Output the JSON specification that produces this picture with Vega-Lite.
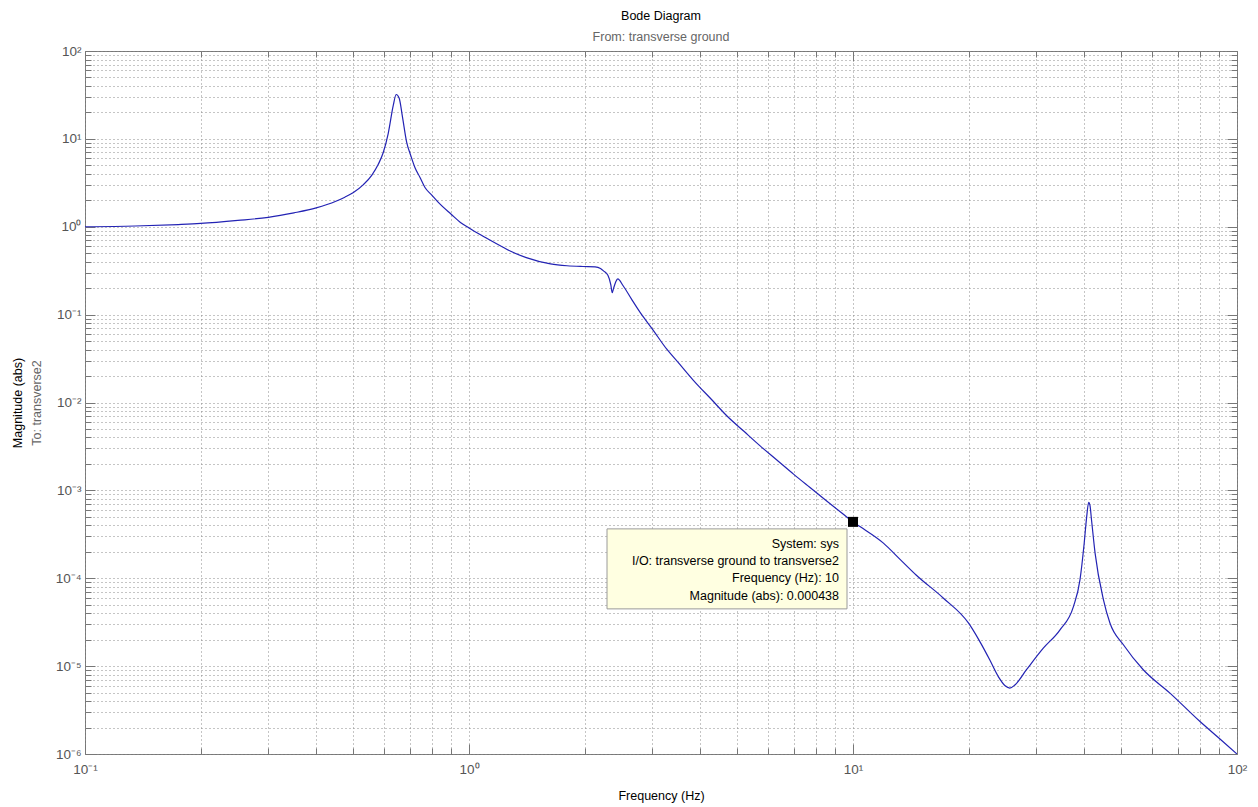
{
  "$schema": "https://vega.github.io/schema/vega-lite/v6.json",
  "width": 1152,
  "height": 703,
  "autosize": "none",
  "padding": {"left": 85, "top": 51, "right": 21, "bottom": 53},
  "background": "white",
  "config": {
    "font": "Liberation Sans",
    "view": {"stroke": "#777777", "strokeWidth": 1, "fill": "white"},
    "axis": {"labelFont": "Liberation Sans", "titleFont": "Liberation Sans", "titleFontWeight": "normal"}
  },
  "title": {
    "text": "Bode Diagram",
    "subtitle": "From: transverse ground",
    "anchor": "middle",
    "frame": "group",
    "fontSize": 12.5,
    "fontWeight": "normal",
    "color": "black",
    "subtitleColor": "#666666",
    "subtitleFontSize": 12.5,
    "subtitlePadding": 8,
    "offset": 1
  },
  "datasets": {
    "bode": [
      {"f": 0.1, "m": 1.0}, {"f": 0.135, "m": 1.02}, {"f": 0.175, "m": 1.06}, {"f": 0.2, "m": 1.09},
      {"f": 0.25, "m": 1.18}, {"f": 0.3, "m": 1.28}, {"f": 0.35, "m": 1.44}, {"f": 0.4, "m": 1.64},
      {"f": 0.45, "m": 1.95}, {"f": 0.475, "m": 2.17}, {"f": 0.5, "m": 2.45}, {"f": 0.53, "m": 3.0}, {"f": 0.558, "m": 3.85},
      {"f": 0.58, "m": 5.1}, {"f": 0.598, "m": 7.0}, {"f": 0.616, "m": 11.5}, {"f": 0.635, "m": 24},
      {"f": 0.646, "m": 32}, {"f": 0.658, "m": 29}, {"f": 0.671, "m": 17.8}, {"f": 0.688, "m": 9.2},
      {"f": 0.705, "m": 6.5}, {"f": 0.723, "m": 4.73}, {"f": 0.745, "m": 3.66}, {"f": 0.768, "m": 2.8},
      {"f": 0.8, "m": 2.29}, {"f": 0.832, "m": 1.89}, {"f": 0.9, "m": 1.38}, {"f": 0.95, "m": 1.12},
      {"f": 1.0, "m": 0.97}, {"f": 1.1, "m": 0.76}, {"f": 1.13, "m": 0.71}, {"f": 1.23, "m": 0.58},
      {"f": 1.28, "m": 0.53}, {"f": 1.41, "m": 0.445}, {"f": 1.63, "m": 0.378}, {"f": 1.8, "m": 0.36},
      {"f": 1.98, "m": 0.353}, {"f": 2.13, "m": 0.35}, {"f": 2.2, "m": 0.335}, {"f": 2.24, "m": 0.315},
      {"f": 2.3, "m": 0.28}, {"f": 2.34, "m": 0.22}, {"f": 2.36, "m": 0.178}, {"f": 2.38, "m": 0.2},
      {"f": 2.41, "m": 0.235}, {"f": 2.44, "m": 0.255}, {"f": 2.52, "m": 0.213}, {"f": 2.65, "m": 0.15},
      {"f": 2.79, "m": 0.106}, {"f": 3.0, "m": 0.069}, {"f": 3.27, "m": 0.0407}, {"f": 3.5, "m": 0.0288},
      {"f": 3.84, "m": 0.0179}, {"f": 4.3, "m": 0.0106}, {"f": 4.69, "m": 0.00707}, {"f": 5.2, "m": 0.0047},
      {"f": 5.73, "m": 0.00321}, {"f": 6.3, "m": 0.00226}, {"f": 7.0, "m": 0.00153}, {"f": 7.7, "m": 0.00109},
      {"f": 8.54, "m": 0.000757}, {"f": 9.44, "m": 0.000534}, {"f": 10, "m": 0.000438}, {"f": 10.4, "m": 0.00039},
      {"f": 12.0, "m": 0.000251}, {"f": 13.3, "m": 0.000162}, {"f": 14.6, "m": 0.000109}, {"f": 17.2, "m": 0.0000593},
      {"f": 20.0, "m": 0.0000308}, {"f": 21.4, "m": 0.000019}, {"f": 22.7, "m": 0.0000118}, {"f": 23.9, "m": 0.0000076},
      {"f": 24.9, "m": 0.00000597}, {"f": 25.6, "m": 0.00000562}, {"f": 26.4, "m": 0.0000061}, {"f": 28.3, "m": 0.0000091},
      {"f": 31.3, "m": 0.000016}, {"f": 34.6, "m": 0.0000259}, {"f": 37.5, "m": 0.0000476}, {"f": 39.0, "m": 0.000096},
      {"f": 40.0, "m": 0.00025}, {"f": 40.6, "m": 0.0005}, {"f": 41.1, "m": 0.00073}, {"f": 41.4, "m": 0.00068},
      {"f": 41.8, "m": 0.00046}, {"f": 42.7, "m": 0.000193}, {"f": 44.9, "m": 0.0000568}, {"f": 46.7, "m": 0.0000308},
      {"f": 50.6, "m": 0.0000175}, {"f": 57.0, "m": 0.0000091}, {"f": 66.9, "m": 0.00000493}, {"f": 80.1, "m": 0.00000234},
      {"f": 90, "m": 0.0000015}, {"f": 100, "m": 0.000001}
    ],
    "tip": [{"f": 10, "m": 0.000438}]
  },
  "layer": [
    {
      "data": {"name": "bode"},
      "mark": {"type": "line", "color": "#2323b4", "strokeWidth": 1.2, "clip": true, "interpolate": "monotone"},
      "encoding": {
        "x": {
          "field": "f", "type": "quantitative",
          "scale": {"type": "log", "domain": [0.1, 100], "nice": false},
          "axis": {
            "orient": "bottom",
            "title": "Frequency  (Hz)", "titleColor": "black", "titleFontSize": 12.5, "titlePadding": 10,
            "values": [0.1,0.2,0.3,0.4,0.5,0.6,0.7,0.8,0.9,1,2,3,4,5,6,7,8,9,10,20,30,40,50,60,70,80,90,100],
            "labelExpr": "abs(log(datum.value)/LN10 - round(log(datum.value)/LN10)) > 0.01 ? '' : '10' + replace(replace(replace(replace(replace(replace(replace(replace('' + round(log(datum.value)/LN10), '-', '⁻'), '0', '⁰'), '1', '¹'), '2', '²'), '3', '³'), '4', '⁴'), '5', '⁵'), '6', '⁶')",
            "labelOverlap": false, "labelFlush": false, "labelBound": false,
            "labelFontSize": 13.5, "labelColor": "#555555", "labelPadding": 18, "labelBaseline": "top",
            "grid": true, "gridColor": "#8a8a8a", "gridDash": [1, 3], "gridWidth": 1,
            "domain": false,
            "ticks": true, "tickColor": "#777777",
            "tickSize": {"condition": {"test": "abs(log(datum.value)/LN10 - round(log(datum.value)/LN10)) < 0.01", "value": -10}, "value": -6}
          }
        },
        "y": {
          "field": "m", "type": "quantitative",
          "scale": {"type": "log", "domain": [0.000001, 100], "nice": false},
          "axis": {
            "orient": "left",
            "title": "To: transverse2", "titleColor": "#666666", "titleFontSize": 12.5, "titleX": -42,
            "values": [0.000001,0.000002,0.000003,0.000004,0.000005,0.000006,0.000007,0.000008,0.000009,
                       0.00001,0.00002,0.00003,0.00004,0.00005,0.00006,0.00007,0.00008,0.00009,
                       0.0001,0.0002,0.0003,0.0004,0.0005,0.0006,0.0007,0.0008,0.0009,
                       0.001,0.002,0.003,0.004,0.005,0.006,0.007,0.008,0.009,
                       0.01,0.02,0.03,0.04,0.05,0.06,0.07,0.08,0.09,
                       0.1,0.2,0.3,0.4,0.5,0.6,0.7,0.8,0.9,
                       1,2,3,4,5,6,7,8,9,
                       10,20,30,40,50,60,70,80,90,100],
            "labelExpr": "abs(log(datum.value)/LN10 - round(log(datum.value)/LN10)) > 0.01 ? '' : '10' + replace(replace(replace(replace(replace(replace(replace(replace('' + round(log(datum.value)/LN10), '-', '⁻'), '0', '⁰'), '1', '¹'), '2', '²'), '3', '³'), '4', '⁴'), '5', '⁵'), '6', '⁶')",
            "labelOverlap": false, "labelFlush": false, "labelBound": false,
            "labelFontSize": 13.5, "labelColor": "#555555", "labelPadding": 14, "labelBaseline": "middle",
            "grid": true, "gridColor": "#8a8a8a", "gridDash": [1, 3], "gridWidth": 1,
            "domain": false,
            "ticks": true, "tickColor": "#777777",
            "tickSize": {"condition": {"test": "abs(log(datum.value)/LN10 - round(log(datum.value)/LN10)) < 0.01", "value": -10}, "value": -6}
          }
        }
      }
    },
    {
      "data": {"name": "bode"},
      "mark": {"type": "line", "opacity": 0},
      "encoding": {
        "x": {
          "field": "f", "type": "quantitative",
          "scale": {"type": "log", "domain": [0.1, 100], "nice": false},
          "axis": {
            "orient": "top", "title": null, "labels": false, "grid": false, "domain": false,
            "values": [0.1,0.2,0.3,0.4,0.5,0.6,0.7,0.8,0.9,1,2,3,4,5,6,7,8,9,10,20,30,40,50,60,70,80,90,100],
            "ticks": true, "tickColor": "#777777",
            "tickSize": {"condition": {"test": "abs(log(datum.value)/LN10 - round(log(datum.value)/LN10)) < 0.01", "value": -10}, "value": -6}
          }
        },
        "y": {
          "field": "m", "type": "quantitative",
          "scale": {"type": "log", "domain": [0.000001, 100], "nice": false},
          "axis": {
            "orient": "right", "title": null, "labels": false, "grid": false, "domain": false,
            "values": [0.000001,0.000002,0.000003,0.000004,0.000005,0.000006,0.000007,0.000008,0.000009,
                       0.00001,0.00002,0.00003,0.00004,0.00005,0.00006,0.00007,0.00008,0.00009,
                       0.0001,0.0002,0.0003,0.0004,0.0005,0.0006,0.0007,0.0008,0.0009,
                       0.001,0.002,0.003,0.004,0.005,0.006,0.007,0.008,0.009,
                       0.01,0.02,0.03,0.04,0.05,0.06,0.07,0.08,0.09,
                       0.1,0.2,0.3,0.4,0.5,0.6,0.7,0.8,0.9,
                       1,2,3,4,5,6,7,8,9,
                       10,20,30,40,50,60,70,80,90,100],
            "ticks": true, "tickColor": "#777777",
            "tickSize": {"condition": {"test": "abs(log(datum.value)/LN10 - round(log(datum.value)/LN10)) < 0.01", "value": -10}, "value": -6}
          }
        }
      }
    },
    {
      "data": {"name": "bode"},
      "mark": {"type": "line", "opacity": 0},
      "encoding": {
        "x": {"field": "f", "type": "quantitative", "axis": null},
        "y": {
          "field": "m", "type": "quantitative",
          "axis": {
            "orient": "left", "title": "Magnitude (abs)", "titleColor": "black", "titleFontSize": 12.5,
            "titlePadding": 61, "labels": false, "grid": false, "domain": false, "ticks": false
          }
        }
      }
    },
    {
      "data": {"name": "tip"},
      "mark": {"type": "rect", "fill": "#ffffe1", "stroke": "#9a9a9a", "strokeWidth": 1,
               "xOffset": -246, "x2Offset": -6, "yOffset": 7, "y2Offset": 87},
      "encoding": {
        "x": {"field": "f", "type": "quantitative", "axis": null},
        "x2": {"field": "f"},
        "y": {"field": "m", "type": "quantitative", "axis": null},
        "y2": {"field": "m"}
      }
    },
    {
      "data": {"name": "tip"},
      "mark": {"type": "text",
               "text": ["System: sys", "I/O: transverse ground to transverse2", "Frequency (Hz): 10", "Magnitude (abs): 0.000438"],
               "align": "right", "baseline": "top", "dx": -14, "dy": 16, "lineHeight": 17.3,
               "fontSize": 12.5, "font": "Liberation Sans", "color": "black"},
      "encoding": {
        "x": {"field": "f", "type": "quantitative", "axis": null},
        "y": {"field": "m", "type": "quantitative", "axis": null}
      }
    },
    {
      "data": {"name": "tip"},
      "mark": {"type": "square", "size": 100, "color": "black", "filled": true, "opacity": 1},
      "encoding": {
        "x": {"field": "f", "type": "quantitative", "axis": null},
        "y": {"field": "m", "type": "quantitative", "axis": null}
      }
    }
  ],
  "resolve": {"axis": {"x": "independent", "y": "independent"}}
}
